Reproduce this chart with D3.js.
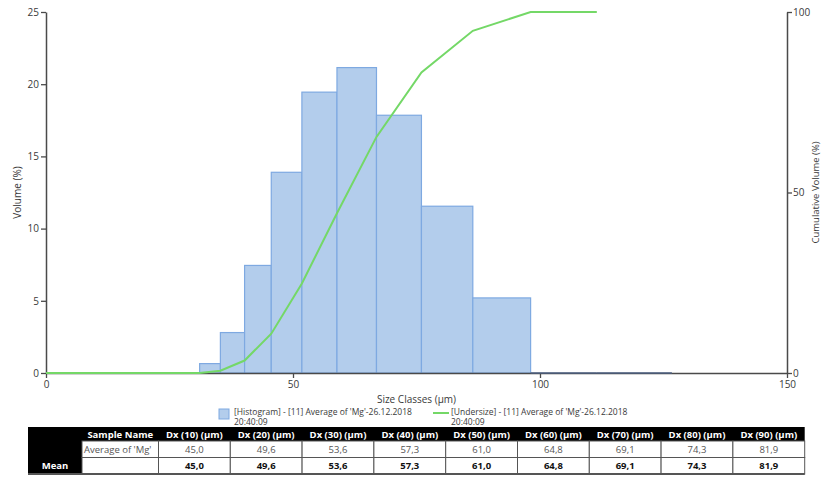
<!DOCTYPE html>
<html>
<head>
<meta charset="utf-8">
<script src="https://cdn.jsdelivr.net/npm/d3@7"></script>
<style>
  html, body { margin: 0; padding: 0; background: #fff; }
  svg { display: block; font-family: "Open Sans", "Noto Sans", sans-serif; }
</style>
</head>
<body>
<svg id="chart" width="822" height="479"></svg>
<script>
// Size class edges (µm) and volume in each class (%)
const classEdges = [31.1, 35.3, 40.2, 45.6, 51.8, 58.9, 66.9, 76.0, 86.4, 98.1, 111.5, 126.7];
const volumes    = [0.65, 2.8, 7.45, 13.9, 19.45, 21.15, 17.85, 11.55, 5.2, 0, 0];

// Cumulative undersize curve (µm, %)
const undersizeSizes  = [0, 31.1, 35.3, 40.2, 45.6, 51.8, 58.9, 66.9, 76.0, 86.4, 98.1, 111.5];
const undersizeValues = [0, 0, 0.65, 3.45, 10.9, 24.8, 44.25, 65.4, 83.25, 94.8, 100, 100];

// Axis ticks
const xTicks = [0, 50, 100, 150];
const yLeftTicks = [0, 5, 10, 15, 20, 25];
const yRightTicks = [0, 50, 100];

// Percentile table
const tableHeaders = ["Sample Name", "Dx (10) (µm)", "Dx (20) (µm)", "Dx (30) (µm)", "Dx (40) (µm)",
                      "Dx (50) (µm)", "Dx (60) (µm)", "Dx (70) (µm)", "Dx (80) (µm)", "Dx (90) (µm)"];
const sampleName = "Average of 'Mg'";
const dxValues = ["45,0", "49,6", "53,6", "57,3", "61,0", "64,8", "69,1", "74,3", "81,9"];
const meanValues = ["45,0", "49,6", "53,6", "57,3", "61,0", "64,8", "69,1", "74,3", "81,9"];

const legendHist = ["[Histogram] - [11] Average of 'Mg'-26.12.2018", "20:40:09"];
const legendUnder = ["[Undersize] - [11] Average of 'Mg'-26.12.2018", "20:40:09"];

const svg = d3.select("#chart");
const plot = { left: 46, right: 787, top: 12, bottom: 373 };

const x = d3.scaleLinear().domain([0, 150]).range([plot.left, plot.right]);
const yL = d3.scaleLinear().domain([0, 25]).range([plot.bottom, plot.top]);
const yR = d3.scaleLinear().domain([0, 100]).range([plot.bottom, plot.top]);

const barFill = "#b3cdec";
const barStroke = "#7ea9e1";
const lineColor = "#74d867";
const axisColor = "#4a4a4a";
const textColor = "#3a3a3a";

// Histogram bars
const bins = volumes.map((v, i) => ({ x0: classEdges[i], x1: classEdges[i + 1], v }));
svg.append("g").selectAll("rect").data(bins).join("rect")
  .attr("x", d => x(d.x0))
  .attr("y", d => yL(d.v))
  .attr("width", d => x(d.x1) - x(d.x0))
  .attr("height", d => yL(0) - yL(d.v))
  .attr("fill", barFill)
  .attr("stroke", barStroke)
  .attr("stroke-width", 1.2);

// Axes
function styleAxis(g) {
  g.selectAll(".domain").attr("stroke", axisColor).attr("stroke-width", 1.5);
  g.selectAll(".tick line").attr("stroke", axisColor).attr("stroke-width", 1.3);
  g.selectAll(".tick text").attr("fill", textColor).style("font-size", "10px")
    .style("font-family", "'Open Sans', 'Noto Sans', sans-serif");
}

svg.append("g")
  .attr("transform", `translate(0,${plot.bottom})`)
  .call(d3.axisBottom(x).tickValues(xTicks).tickSize(5).tickSizeOuter(0).tickPadding(3))
  .call(styleAxis);

svg.append("g")
  .attr("transform", `translate(${plot.left},0)`)
  .call(d3.axisLeft(yL).tickValues(yLeftTicks).tickSize(5).tickSizeOuter(0).tickPadding(2))
  .call(styleAxis);

svg.append("g")
  .attr("transform", `translate(${plot.right},0)`)
  .call(d3.axisRight(yR).tickValues(yRightTicks).tickSize(5).tickSizeOuter(0).tickPadding(1))
  .call(styleAxis);

// Zero-height classes drawn along the baseline
svg.append("g").selectAll("line").data(bins.filter(d => d.v === 0)).join("line")
  .attr("x1", d => x(d.x0)).attr("x2", d => x(d.x1))
  .attr("y1", yL(0)).attr("y2", yL(0))
  .attr("stroke", "#4d5f80").attr("stroke-width", 1.5);

// Undersize curve
const pts = undersizeSizes.map((s, i) => [s, undersizeValues[i]]);
svg.append("path")
  .datum(pts)
  .attr("fill", "none")
  .attr("stroke", lineColor)
  .attr("stroke-width", 2)
  .attr("d", d3.line().x(d => x(d[0])).y(d => yR(d[1])));

// Axis titles
svg.append("text")
  .attr("transform", `translate(18,${(plot.top + plot.bottom) / 2}) rotate(-90)`)
  .attr("text-anchor", "middle").attr("dominant-baseline", "middle")
  .attr("fill", textColor).style("font-size", "10px")
  .text("Volume (%)");

svg.append("text")
  .attr("transform", `translate(816.5,${(plot.top + plot.bottom) / 2}) rotate(-90)`)
  .attr("text-anchor", "middle").attr("dominant-baseline", "middle")
  .attr("fill", textColor).style("font-size", "9.5px")
  .text("Cumulative Volume (%)");

svg.append("text")
  .attr("x", (plot.left + plot.right) / 2).attr("y", 403)
  .attr("text-anchor", "middle")
  .attr("fill", textColor).style("font-size", "10px")
  .text("Size Classes (µm)");

// Legend
const legend = svg.append("g").style("font-size", "8.5px").attr("fill", textColor);
legend.append("rect").attr("x", 219).attr("y", 409).attr("width", 10).attr("height", 10)
  .attr("fill", barFill).attr("stroke", barStroke).attr("stroke-width", 1);
legend.selectAll("text.h").data(legendHist).join("text").attr("class", "h")
  .attr("x", 234).attr("y", (d, i) => 414.5 + i * 10.5).text(d => d);
legend.append("line").attr("x1", 433).attr("x2", 449).attr("y1", 413).attr("y2", 413)
  .attr("stroke", lineColor).attr("stroke-width", 2);
legend.selectAll("text.u").data(legendUnder).join("text").attr("class", "u")
  .attr("x", 451).attr("y", (d, i) => 414.5 + i * 10.5).text(d => d);

// Percentile table
const tbl = svg.append("g").style("font-size", "10px");
const colX = [28, 82, 158.5];
const dxW = 71.8;
for (let i = 0; i < dxValues.length; i++) colX.push(158.5 + (i + 1) * dxW);
const rowY = [427, 441, 457.5, 474];

// header band and left column
tbl.append("rect").attr("x", colX[0]).attr("y", rowY[0])
  .attr("width", colX[colX.length - 1] - colX[0]).attr("height", rowY[1] - rowY[0]).attr("fill", "#000");
tbl.append("rect").attr("x", colX[0]).attr("y", rowY[0])
  .attr("width", colX[1] - colX[0]).attr("height", rowY[3] - rowY[0]).attr("fill", "#000");

// body cells
for (let r = 1; r <= 2; r++) {
  for (let c = 1; c < colX.length - 1; c++) {
    tbl.append("rect").attr("x", colX[c]).attr("y", rowY[r])
      .attr("width", colX[c + 1] - colX[c]).attr("height", rowY[r + 1] - rowY[r])
      .attr("fill", "#fff").attr("stroke", "#555").attr("stroke-width", 1);
  }
}
tbl.append("line").attr("x1", colX[0]).attr("x2", colX[colX.length - 1])
  .attr("y1", rowY[3]).attr("y2", rowY[3]).attr("stroke", "#555").attr("stroke-width", 2);

// header text
tbl.selectAll("text.hd").data(tableHeaders).join("text").attr("class", "hd")
  .attr("x", (d, i) => (colX[i + 1] + colX[i + 2]) / 2)
  .attr("y", (rowY[0] + rowY[1]) / 2 + 3.5)
  .attr("text-anchor", "middle").attr("fill", "#fff").attr("font-weight", 700)
  .style("font-size", "9.5px")
  .text(d => d);

tbl.append("text").attr("x", colX[1] + 2).attr("y", (rowY[1] + rowY[2]) / 2 + 3.5)
  .attr("fill", "#555").style("font-size", "9.5px").text(sampleName);

tbl.selectAll("text.dx").data(dxValues).join("text").attr("class", "dx")
  .attr("x", (d, i) => (colX[i + 2] + colX[i + 3]) / 2)
  .attr("y", (rowY[1] + rowY[2]) / 2 + 3.5)
  .attr("text-anchor", "middle").attr("fill", "#555").style("font-size", "9.5px")
  .text(d => d);

tbl.append("text").attr("x", (colX[0] + colX[1]) / 2).attr("y", (rowY[2] + rowY[3]) / 2 + 3.5)
  .attr("text-anchor", "middle").attr("fill", "#fff").attr("font-weight", 700)
  .style("font-size", "9.5px").text("Mean");

tbl.selectAll("text.mn").data(meanValues).join("text").attr("class", "mn")
  .attr("x", (d, i) => (colX[i + 2] + colX[i + 3]) / 2)
  .attr("y", (rowY[2] + rowY[3]) / 2 + 3.5)
  .attr("text-anchor", "middle").attr("fill", "#111").attr("font-weight", 700)
  .style("font-size", "9.5px")
  .text(d => d);
</script>
</body>
</html>
